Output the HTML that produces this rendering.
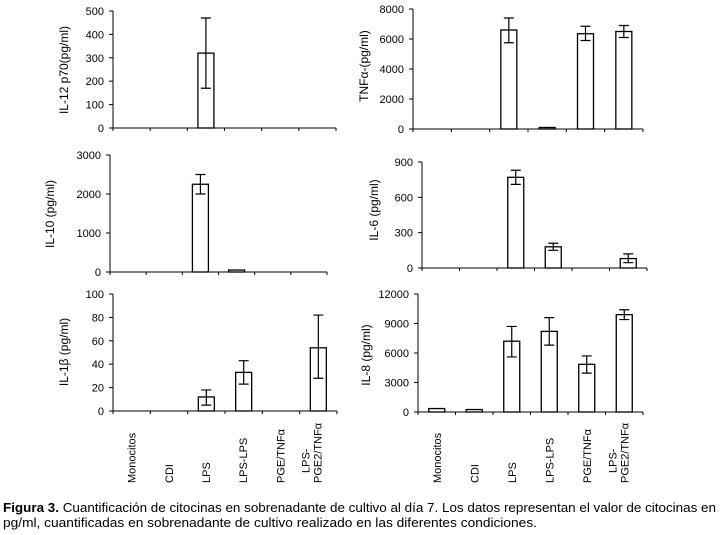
<!DOCTYPE html>
<html><head><meta charset="utf-8"><style>
html,body{margin:0;padding:0;background:#fff;}
svg{display:block;font-family:"Liberation Sans",sans-serif;}
</style></head><body>
<svg id="fig" width="720" height="535" viewBox="0 0 720 535" xmlns="http://www.w3.org/2000/svg">
<text x="3" y="512" font-size="12.5" textLength="713" lengthAdjust="spacingAndGlyphs"><tspan font-weight="bold">Figura 3.</tspan> Cuantificación de citocinas en sobrenadante de cultivo al día 7. Los datos representan el valor de citocinas en</text>
<text x="3" y="527" font-size="12.5" textLength="534" lengthAdjust="spacingAndGlyphs">pg/ml, cuantificadas en sobrenadante de cultivo realizado en las diferentes condiciones.</text>
</svg>
<script>
const categories = ["Monocitos","CDI","LPS","LPS-LPS","PGE/TNFα","LPS-PGE2/TNFα"];
const il12Values = [0,0,320,0,0,0];
const il12Hi = [null,null,470,null,null,null];
const il12Lo = [null,null,170,null,null,null];
const il12Ticks = [0,100,200,300,400,500];
const tnfValues = [0,0,6600,100,6350,6500];
const tnfHi = [null,null,7400,null,6850,6900];
const tnfLo = [null,null,5750,null,5900,6100];
const tnfTicks = [0,2000,4000,6000,8000];
const il10Values = [0,0,2250,50,0,0];
const il10Hi = [null,null,2500,null,null,null];
const il10Lo = [null,null,2000,null,null,null];
const il10Ticks = [0,1000,2000,3000];
const il6Values = [0,0,770,180,0,80];
const il6Hi = [null,null,830,210,null,120];
const il6Lo = [null,null,710,150,null,45];
const il6Ticks = [0,300,600,900];
const il1bValues = [0,0,12,33,0,54];
const il1bHi = [null,null,18,43,null,82];
const il1bLo = [null,null,5,23,null,28];
const il1bTicks = [0,20,40,60,80,100];
const il8Values = [350,250,7200,8200,4850,9900];
const il8Hi = [null,null,8700,9600,5700,10400];
const il8Lo = [null,null,5600,6800,3950,9400];
const il8Ticks = [0,3000,6000,9000,12000];

const NS="http://www.w3.org/2000/svg";
const svg=document.getElementById('fig');
function mk(tag,attrs,parent){const e=document.createElementNS(NS,tag);for(const k in attrs)e.setAttribute(k,attrs[k]);(parent||svg).appendChild(e);return e;}

function panel(name,cfg){
  const g=mk('g',{});
  
  
  const {x0,x1,y0,yTop,max,ticks,vals,hi,lo,title,tx,ty}=cfg;
  const ys=v=>y0-(v/max)*(y0-yTop);
  const cw=(x1-x0)/categories.length;
  const xs=i=>x0+cw*(i+0.5);
  const bw=16;
  const yAx=mk('line',{x1:x0,y1:yTop,x2:x0,y2:y0,stroke:'#000','stroke-width':1},g);
  
  
  const xAx=mk('line',{x1:x0,y1:y0,x2:x1,y2:y0,stroke:'#000','stroke-width':1},g);
  
  
  ticks.forEach(t=>{
    const y=ys(t);
    mk('line',{x1:x0-4,y1:y,x2:x0,y2:y,stroke:'#000'},g);
    const tl=mk('text',{x:x0-9,y:y+4,'font-size':11,'text-anchor':'end'},g);
    tl.textContent=t;
    
    
  });
  for(let i=0;i<=categories.length;i++){
    const x=x0+cw*i;
    mk('line',{x1:x,y1:y0,x2:x,y2:y0+3,stroke:'#000'},g);
  }
  vals.forEach((v,i)=>{
    if(v<=0)return;
    const r=mk('rect',{x:xs(i)-bw/2,y:ys(v),width:bw,height:y0-ys(v),fill:'#fff',stroke:'#000','stroke-width':1.3},g);
    
    
    if(hi[i]!=null){
      const e=mk('path',{d:`M${xs(i)},${ys(hi[i])}V${ys(lo[i])}M${xs(i)-5},${ys(hi[i])}H${xs(i)+5}M${xs(i)-5},${ys(lo[i])}H${xs(i)+5}`,stroke:'#000','stroke-width':1.2,fill:'none'},g);
      
      
    }
  });
  const t=mk('text',{x:tx,y:ty,'font-size':12,'text-anchor':'middle',transform:`rotate(-90 ${tx} ${ty})`},g);
  t.textContent=title;
  
  
}
panel('il12',{x0:113,x1:336,y0:128,yTop:11,max:500,ticks:il12Ticks,vals:il12Values,hi:il12Hi,lo:il12Lo,title:'IL-12  p70(pg/ml)',tx:68,ty:70});
panel('tnf',{x0:413,x1:643,y0:129,yTop:9,max:8000,ticks:tnfTicks,vals:tnfValues,hi:tnfHi,lo:tnfLo,title:'TNFα-(pg/ml)',tx:368,ty:66});
panel('il10',{x0:110,x1:327,y0:272,yTop:155,max:3000,ticks:il10Ticks,vals:il10Values,hi:il10Hi,lo:il10Lo,title:'IL-10 (pg/ml)',tx:54,ty:214});
panel('il6',{x0:422,x1:647,y0:268,yTop:162,max:900,ticks:il6Ticks,vals:il6Values,hi:il6Hi,lo:il6Lo,title:'IL-6  (pg/ml)',tx:378,ty:210});
panel('il1b',{x0:113,x1:337,y0:411,yTop:294,max:100,ticks:il1bTicks,vals:il1bValues,hi:il1bHi,lo:il1bLo,title:'IL-1β (pg/ml)',tx:68,ty:352});
panel('il8',{x0:418,x1:643,y0:412,yTop:294,max:12000,ticks:il8Ticks,vals:il8Values,hi:il8Hi,lo:il8Lo,title:'IL-8  (pg/ml)',tx:370,ty:355});

function catLabels(side,x0,x1){
  const cw=(x1-x0)/categories.length;
  categories.forEach((c,i)=>{
    const x=x0+cw*(i+0.5)+4;
    const y=483;
    const t=mk('text',{x:0,y:0,'font-size':11,'text-anchor':'start',transform:`translate(${x} ${y}) rotate(-90)`});
    
    
    if(c==="LPS-PGE2/TNFα"){
      const a=mk('tspan',{x:10,dy:-12},t);a.textContent='LPS-';
      const b=mk('tspan',{x:0,dy:12},t);b.textContent='PGE2/TNFα';
    } else t.textContent=c;
  });
}
catLabels('left',113,336);
catLabels('right',418,643);
</script>
</body></html>
